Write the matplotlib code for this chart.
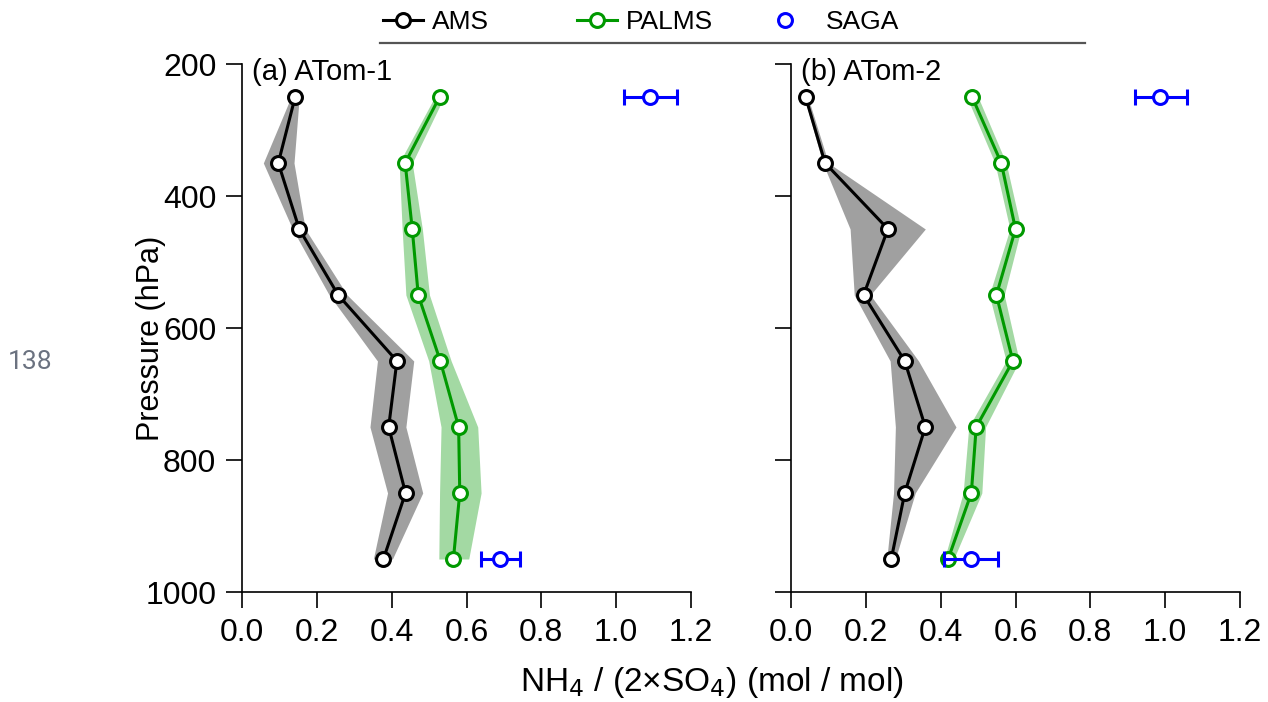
import matplotlib.pyplot as plt
import numpy as np
from matplotlib.lines import Line2D

plt.rcParams["font.family"] = ["Liberation Sans", "DejaVu Sans"]

# pressure levels (hPa)
Pressure = [250, 350, 450, 550, 650, 750, 850, 950]

# ATom-1
AMS_1 = [0.142, 0.097, 0.153, 0.257, 0.414, 0.392, 0.437, 0.378]
AMS_1_lo = [0.131, 0.057, 0.135, 0.233, 0.362, 0.342, 0.389, 0.351]
AMS_1_hi = [0.153, 0.139, 0.169, 0.281, 0.459, 0.438, 0.483, 0.402]
PALMS_1 = [0.528, 0.436, 0.455, 0.471, 0.530, 0.579, 0.582, 0.565]
PALMS_1_lo = [0.515, 0.420, 0.428, 0.438, 0.499, 0.532, 0.528, 0.526]
PALMS_1_hi = [0.540, 0.455, 0.482, 0.501, 0.559, 0.630, 0.639, 0.606]
SAGA_P = [250, 950]
SAGA_1 = [1.090, 0.689]
SAGA_1_err_lo = [0.069, 0.050]
SAGA_1_err_hi = [0.072, 0.053]

# ATom-2
AMS_2 = [0.039, 0.091, 0.259, 0.194, 0.304, 0.359, 0.304, 0.268]
AMS_2_lo = [0.035, 0.085, 0.158, 0.169, 0.265, 0.279, 0.274, 0.256]
AMS_2_hi = [0.045, 0.100, 0.359, 0.212, 0.341, 0.441, 0.332, 0.279]
PALMS_2 = [0.484, 0.562, 0.600, 0.549, 0.593, 0.495, 0.482, 0.420]
PALMS_2_lo = [0.470, 0.545, 0.585, 0.530, 0.575, 0.475, 0.460, 0.410]
PALMS_2_hi = [0.500, 0.575, 0.615, 0.570, 0.610, 0.520, 0.510, 0.435]
SAGA_2 = [0.986, 0.480]
SAGA_2_err_lo = [0.066, 0.070]
SAGA_2_err_hi = [0.072, 0.073]

Grey = "#a0a0a0"
Green = "#009900"
LightGreen = "#a3d9a3"
Blue = "#0000ff"

fig = plt.figure(figsize=(12.68, 7.02), dpi=100)
ax1 = fig.add_axes([242 / 1268, 1 - 592 / 702, 449 / 1268, 528 / 702])
ax2 = fig.add_axes([791 / 1268, 1 - 592 / 702, 449 / 1268, 528 / 702])

panels = [
    (ax1, "(a) ATom-1", AMS_1, AMS_1_lo, AMS_1_hi, PALMS_1, PALMS_1_lo, PALMS_1_hi,
     SAGA_1, SAGA_1_err_lo, SAGA_1_err_hi),
    (ax2, "(b) ATom-2", AMS_2, AMS_2_lo, AMS_2_hi, PALMS_2, PALMS_2_lo, PALMS_2_hi,
     SAGA_2, SAGA_2_err_lo, SAGA_2_err_hi),
]

for ax, title, ams, ams_lo, ams_hi, palms, palms_lo, palms_hi, saga, s_lo, s_hi in panels:
    ax.fill_betweenx(Pressure, ams_lo, ams_hi, color=Grey, lw=0)
    ax.fill_betweenx(Pressure, palms_lo, palms_hi, color=LightGreen, lw=0)
    ax.plot(ams, Pressure, color="black", lw=2.2, marker="o", ms=10,
            mfc="white", mec="black", mew=2.2)
    ax.plot(palms, Pressure, color=Green, lw=2.2, marker="o", ms=10,
            mfc="white", mec=Green, mew=2.2)
    ax.errorbar(saga, SAGA_P, xerr=[s_lo, s_hi], fmt="o", color=Blue, ms=10,
                mfc="white", mec=Blue, mew=2.2, elinewidth=2.2, capsize=5.5, capthick=2.2)

    ax.set_xlim(0, 1.2)
    ax.set_ylim(1000, 200)
    ax.set_xticks(np.arange(0, 1.21, 0.2))
    ax.set_xticklabels(["%.1f" % t for t in np.arange(0, 1.21, 0.2)])
    ax.set_yticks([200, 400, 600, 800, 1000])
    ax.spines["top"].set_visible(False)
    ax.spines["right"].set_visible(False)
    for s in ["left", "bottom"]:
        ax.spines[s].set_linewidth(1.2)
    ax.tick_params(direction="out", length=11.5, width=1.2, labelsize=23, pad=7)
    ax.text(0.022, 0.985, title, transform=ax.transAxes, fontsize=21,
            ha="left", va="center")

ax1.set_ylabel("Pressure (hPa)", fontsize=22)
ax1.yaxis.set_label_coords(-0.17, 0.481)
ax2.tick_params(axis="y", labelleft=False)

fig.text(712 / 1268, 1 - 683 / 702, r"NH$_4$ / (2×SO$_4$) (mol / mol)",
         ha="center", va="center", fontsize=24)

# side line number from the manuscript
fig.text(30 / 1268, 1 - 362 / 702, "138", ha="center", va="center",
         fontsize=19, color="#6b7280", family="Roboto")

# Legend across the top, one entry per column
entries = ["AMS", "PALMS", "SAGA"]
entry_colors = ["black", Green, Blue]
entry_lines = [2.2, 2.2, 0]
entry_x = [383, 577, 765]
for name, c, lw, x in zip(entries, entry_colors, entry_lines, entry_x):
    h = Line2D([], [], color=c, lw=lw, marker="o", ms=10, mfc="white", mec=c, mew=2.2)
    pad = 0.35 if lw else 0.8
    fig.legend([h], [name], loc="center left", bbox_to_anchor=(x / 1268, 1 - 22 / 702),
               frameon=False, borderpad=0, borderaxespad=0, handlelength=1.5,
               handletextpad=pad, prop={"size": 19})
fig.add_artist(Line2D([380 / 1268, 1085 / 1268], [1 - 43 / 702, 1 - 43 / 702],
                      color="#555555", lw=1.6))

plt.savefig("out.png", dpi=100)
